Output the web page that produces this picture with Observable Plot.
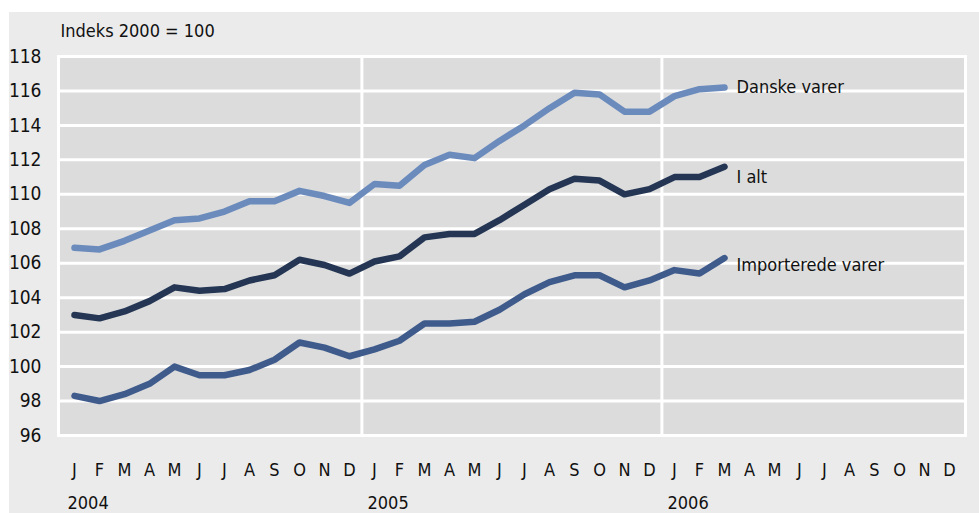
<!DOCTYPE html>
<html><head><meta charset="utf-8">
<script src="https://cdn.jsdelivr.net/npm/d3@7"></script>
<script src="https://cdn.jsdelivr.net/npm/@observablehq/plot@0.6"></script>
<style>
body{margin:0;background:#fff;}
#wrap{position:absolute;left:9px;top:12px;width:970px;height:501px;background:#ebebeb;}
</style></head><body><div id="wrap"></div>
<script>
const years = ["2004","2005","2006"];
const monthLetters = ["J","F","M","A","M","J","J","A","S","O","N","D"];
const months = years.flatMap(y => monthLetters.map((m,i) => `${y}-${String(i+1).padStart(2,"0")}`));
const seriesNames = ["Danske varer","I alt","Importerede varer"];
const danske = [106.9,106.8,107.3,107.9,108.5,108.6,109.0,109.6,109.6,110.2,109.9,109.5,110.6,110.5,111.7,112.3,112.1,113.1,114.0,115.0,115.9,115.8,114.8,114.8,115.7,116.1,116.2];
const ialt = [103.0,102.8,103.2,103.8,104.6,104.4,104.5,105.0,105.3,106.2,105.9,105.4,106.1,106.4,107.5,107.7,107.7,108.5,109.4,110.3,110.9,110.8,110.0,110.3,111.0,111.0,111.6];
const importerede = [98.3,98.0,98.4,99.0,100.0,99.5,99.5,99.8,100.4,101.4,101.1,100.6,101.0,101.5,102.5,102.5,102.6,103.3,104.2,104.9,105.3,105.3,104.6,105.0,105.6,105.4,106.3];
const yTicks = d3.range(96,119,2);
const yLabel = "Indeks 2000 = 100";

const colors = {"Danske varer":"#6b8bbd","I alt":"#243654","Importerede varer":"#3f5b8c"};
const labelDy = {"Danske varer":0,"I alt":10,"Importerede varer":7};
const values = [danske, ialt, importerede];
const data = seriesNames.flatMap((s,k) => values[k].map((v,i) => ({series:s, month:months[i], value:v})));
const ends = seriesNames.map((s,k) => ({series:s, month:months[values[k].length-1], value:values[k][values[k].length-1]}));
const yearStarts = years.map(y => `${y}-01`);
const font = "'DejaVu Sans Condensed',sans-serif";

const chart = Plot.plot({
  width:970, height:501,
  marginLeft:49, marginTop:44, marginRight:14, marginBottom:78,
  style:{fontFamily:font, fontSize:"18px", color:"#111", background:"transparent"},
  x:{type:"point", domain:months, padding:0.5, axis:null},
  y:{domain:[96,118], axis:null},
  marks:[
    Plot.frame({fill:"#dcdcdc"}),
    Plot.ruleY(yTicks, {stroke:"#fff", strokeWidth:3}),
    Plot.ruleX(yearStarts.slice(1), {stroke:"#fff", strokeWidth:3, dx:-12.6}),
    Plot.frame({stroke:"#fff", strokeWidth:3}),
    Plot.text(yTicks, {y:d=>d, text:d=>String(d), frameAnchor:"left", textAnchor:"end", lineAnchor:"middle", dx:-17, fontSize:19}),
    Plot.text(months, {x:d=>d, text:d=>monthLetters[+d.slice(5)-1], frameAnchor:"bottom", lineAnchor:"middle", dy:35, fontSize:18}),
    Plot.text(yearStarts, {x:d=>d, text:d=>d.slice(0,4), frameAnchor:"bottom", lineAnchor:"middle", textAnchor:"start", dx:-7, dy:68, fontSize:18}),
    Plot.text([yLabel], {frameAnchor:"top-left", lineAnchor:"middle", text:d=>d, dx:2, dy:-25, fontSize:18}),
    Plot.line(data, {x:"month", y:"value", z:"series", stroke:d=>colors[d.series], strokeWidth:6.5, strokeLinecap:"round", strokeLinejoin:"round"}),
    ...ends.map(e => Plot.text([e], {x:"month", y:"value", text:"series", textAnchor:"start", lineAnchor:"middle", dx:12, dy:labelDy[e.series], fontSize:18}))
  ]
});
document.getElementById("wrap").appendChild(chart);
</script></body></html>
